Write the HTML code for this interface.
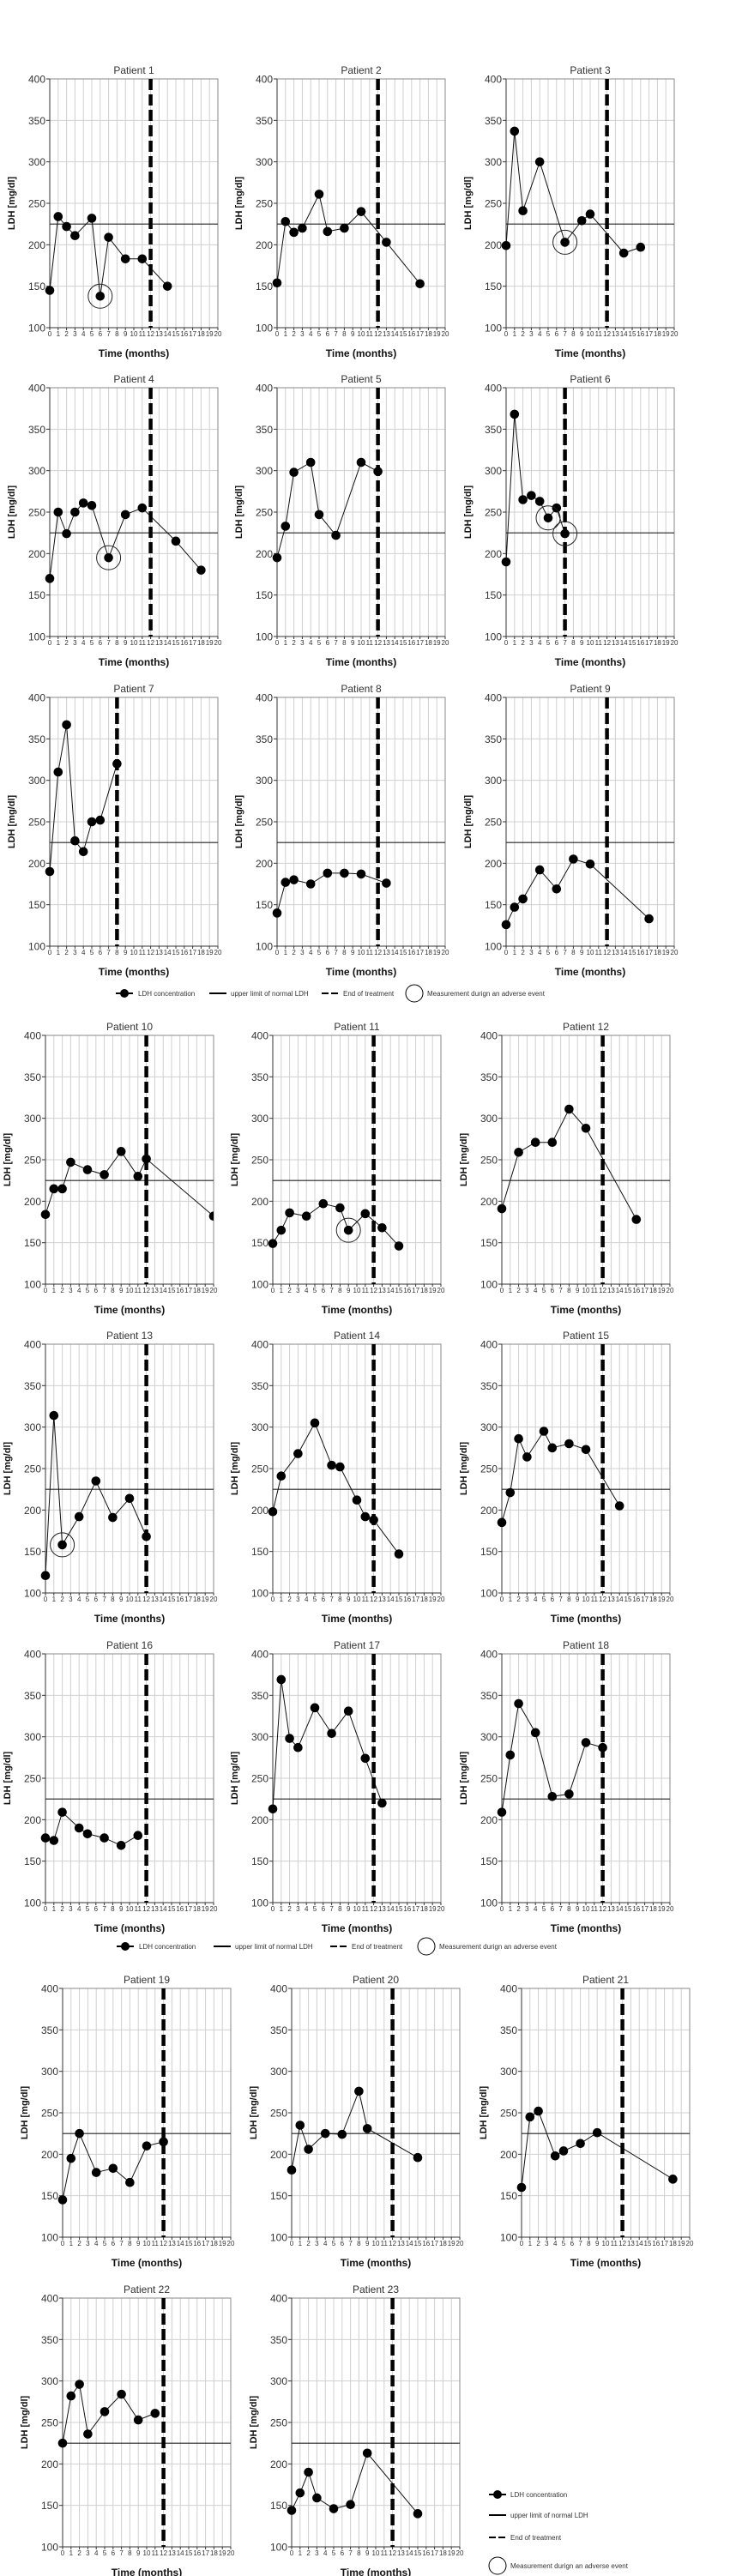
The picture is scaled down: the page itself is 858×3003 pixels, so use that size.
<!DOCTYPE html>
<html><head><meta charset="utf-8">
<style>
html,body{margin:0;padding:0;background:#fff;}
svg{display:block;}
text{font-family:"Liberation Sans",sans-serif;}
</style></head>
<body>
<svg id="fig" width="858" height="3003" viewBox="0 0 858 3003" xmlns="http://www.w3.org/2000/svg"></svg>
<script>
const patientNames = ["Patient 1","Patient 2","Patient 3","Patient 4","Patient 5","Patient 6","Patient 7","Patient 8","Patient 9","Patient 10","Patient 11","Patient 12","Patient 13","Patient 14","Patient 15","Patient 16","Patient 17","Patient 18","Patient 19","Patient 20","Patient 21","Patient 22","Patient 23"];
const patientMonths = [
[0,1,2,3,5,6,7,9,11,14],
[0,1,2,3,5,6,8,10,13,17],
[0,1,2,4,7,9,10,14,16],
[0,1,2,3,4,5,7,9,11,15,18],
[0,1,2,4,5,7,10,12],
[0,1,2,3,4,5,6,7],
[0,1,2,3,4,5,6,8],
[0,1,2,4,6,8,10,13],
[0,1,2,4,6,8,10,17],
[0,1,2,3,5,7,9,11,12,20],
[0,1,2,4,6,8,9,11,13,15],
[0,2,4,6,8,10,16],
[0,1,2,4,6,8,10,12],
[0,1,3,5,7,8,10,11,12,15],
[0,1,2,3,5,6,8,10,14],
[0,1,2,4,5,7,9,11],
[0,1,2,3,5,7,9,11,13],
[0,1,2,4,6,8,10,12],
[0,1,2,4,6,8,10,12],
[0,1,2,4,6,8,9,15],
[0,1,2,4,5,7,9,18],
[0,1,2,3,5,7,9,11],
[0,1,2,3,5,7,9,15]
];
const patientLDH = [
[145,234,222,211,232,138,209,183,183,150],
[154,228,215,220,261,216,220,240,203,153],
[199,337,241,300,203,229,237,190,197],
[170,250,224,250,261,258,195,247,255,215,180],
[195,233,298,310,247,222,310,299],
[190,368,265,270,263,243,255,224],
[190,310,367,227,214,250,252,320],
[140,177,180,175,188,188,187,176],
[126,147,157,192,169,205,199,133],
[184,215,215,247,238,232,260,230,251,182],
[149,165,186,182,197,192,165,185,168,146],
[191,259,271,271,311,288,178],
[121,314,158,192,235,191,214,168],
[198,241,268,305,254,252,212,192,188,147],
[185,221,286,264,295,275,280,273,205],
[178,175,209,190,183,178,169,181],
[213,369,298,287,335,304,331,274,220],
[209,278,340,305,228,231,293,287],
[145,195,225,178,183,166,210,215],
[181,235,206,225,224,276,231,196],
[160,245,252,198,204,213,226,170],
[225,282,296,236,263,284,253,261],
[144,165,190,159,146,151,213,140]
];
const endOfTreatment = [12,12,12,12,12,7,8,12,12,12,12,12,12,12,12,12,12,12,12,12,12,12,12];
const adverseMonths = [[6],[],[7],[7],[],[5,7],[],[],[],[],[9],[],[2],[],[],[],[],[],[],[],[],[],[]];
const upperLimit = 225;
const yTicks = [100,150,200,250,300,350,400];
const xTicks = [0,1,2,3,4,5,6,7,8,9,10,11,12,13,14,15,16,17,18,19,20];

const NS="http://www.w3.org/2000/svg";
const svg=document.getElementById('fig');
function mk(tag,attrs,parent){const e=document.createElementNS(NS,tag);for(const k in attrs)e.setAttribute(k,attrs[k]);(parent||svg).appendChild(e);return e;}

const rowTops=[92,452,813,1207,1567,1928,2318,2679];
const colLefts=[[58,323,590],[58,323,590],[58,323,590],[53,318,585],[53,318,585],[53,318,585],[73,340,608],[73,340,608]];
const PW=196, PH=290;

patientNames.forEach((name,i)=>{
  const r=Math.floor(i/3), c=i%3;
  const L=colLefts[r][c], T=rowTops[r];
  const xs=m=>L+m/20*PW;
  const ys=v=>T+PH-(v-100)/300*PH;
  const g=mk('g',{});
  
  
  const cp=mk('clipPath',{id:'cp'+i},g);
  mk('rect',{x:L-6,y:T,width:PW+6,height:PH},cp);
  // grid
  xTicks.forEach(m=>{if(m>0&&m<20){const l=mk('line',{x1:xs(m),x2:xs(m),y1:T,y2:T+PH,stroke:'#d0d0d0','stroke-width':1},g);}});
  yTicks.forEach(v=>{if(v>100&&v<400){const l=mk('line',{x1:L,x2:L+PW,y1:ys(v),y2:ys(v),stroke:'#d0d0d0','stroke-width':1},g);}});
  const frame=mk('rect',{x:L,y:T,width:PW,height:PH,fill:'none',stroke:'#8a8a8a','stroke-width':1},g);
  
  const ya=mk('line',{x1:L,x2:L,y1:T,y2:T+PH,stroke:'#333','stroke-width':1},g);
  
  const xa=mk('line',{x1:L,x2:L+PW,y1:T+PH,y2:T+PH,stroke:'#333','stroke-width':1},g);
  
  yTicks.forEach(v=>{
    mk('line',{x1:L-4,x2:L,y1:ys(v),y2:ys(v),stroke:'#333'},g);
    const t=mk('text',{x:L-5,y:ys(v)+4.5,'text-anchor':'end','font-size':12,fill:'#333'},g);
    t.textContent=v;
    
  });
  xTicks.forEach(m=>{
    mk('line',{x1:xs(m),x2:xs(m),y1:T+PH,y2:T+PH+3,stroke:'#333'},g);
    const t=mk('text',{x:xs(m),y:T+PH+10,'text-anchor':'middle','font-size':8,fill:'#333','font-family':'Liberation Serif, serif'},g);
    t.textContent=m;
    
  });
  const tt=mk('text',{x:L+PW/2,y:T-6,'text-anchor':'middle','font-size':12,fill:'#333'},g);
  tt.textContent=name;
  
  const xt=mk('text',{x:L+PW/2,y:T+PH+34,'text-anchor':'middle','font-size':12,'font-weight':'bold',fill:'#111'},g);
  xt.textContent='Time (months)';
  
  const yt=mk('text',{x:0,y:0,'text-anchor':'middle','font-size':11,'font-weight':'bold',fill:'#111',transform:`translate(${L-41},${T+PH/2}) rotate(-90)`},g);
  yt.textContent='LDH [mg/dl]';
  
  // ULN
  const u=mk('line',{x1:L,x2:L+PW,y1:ys(upperLimit),y2:ys(upperLimit),stroke:'#222','stroke-width':1.2},g);
  
  // series
  const cg=mk('g',{'clip-path':`url(#cp${i})`},g);
  const pts=patientMonths[i].map((m,k)=>xs(m)+','+ys(patientLDH[i][k])).join(' ');
  const pl=mk('polyline',{points:pts,fill:'none',stroke:'#111','stroke-width':1},cg);
  
  // end of treatment
  const e=mk('line',{x1:xs(endOfTreatment[i]),x2:xs(endOfTreatment[i]),y1:T,y2:T+PH,stroke:'#000','stroke-width':4.5,'stroke-dasharray':'13,5'},g);
  
  patientMonths[i].forEach((m,k)=>{
    const p=mk('circle',{cx:xs(m),cy:ys(patientLDH[i][k]),r:5.3,fill:'#000'},cg);
    
  });
  adverseMonths[i].forEach(m=>{
    const k=patientMonths[i].indexOf(m);
    const a=mk('circle',{cx:xs(m),cy:ys(patientLDH[i][k]),r:14,fill:'none',stroke:'#222','stroke-width':1},g);
    
  });
});

function legendH(y,x0,gaps){
  const g=mk('g',{});
  
  const [a,b,c,d]=gaps;
  mk('line',{x1:a-10,x2:a+10,y1:y,y2:y,stroke:'#000','stroke-width':2},g);
  mk('circle',{cx:a,cy:y,r:5,fill:'#000'},g);
  const t1=mk('text',{x:a+16,y:y+3,'font-size':8,fill:'#333'},g);t1.textContent='LDH concentration';
  
  mk('line',{x1:b-10,x2:b+10,y1:y,y2:y,stroke:'#000','stroke-width':2},g);
  const t2=mk('text',{x:b+15,y:y+3,'font-size':8,fill:'#333'},g);t2.textContent='upper limit of normal LDH';
  
  mk('line',{x1:c-10,x2:c+10,y1:y,y2:y,stroke:'#000','stroke-width':2,'stroke-dasharray':'8,3'},g);
  const t3=mk('text',{x:c+15,y:y+3,'font-size':8,fill:'#333'},g);t3.textContent='End of treatment';
  
  mk('circle',{cx:d,cy:y,r:10,fill:'none',stroke:'#000','stroke-width':1},g);
  const t4=mk('text',{x:d+15,y:y+3,'font-size':8,fill:'#333'},g);t4.textContent='Measurement durign an adverse event';
  
}
legendH(1158,0,[145,254,385,483]);
legendH(2269,0,[146,259,395,497]);

(function(){
  const g=mk('g',{});
  
  const x=580;
  const rows=[2908,2932,2958,2991];
  const labels=['LDH concentration','upper limit of normal LDH','End of treatment','Measurement durign an adverse event'];
  mk('line',{x1:x-10,x2:x+10,y1:rows[0],y2:rows[0],stroke:'#000','stroke-width':2},g);
  mk('circle',{cx:x,cy:rows[0],r:5,fill:'#000'},g);
  mk('line',{x1:x-10,x2:x+10,y1:rows[1],y2:rows[1],stroke:'#000','stroke-width':2},g);
  mk('line',{x1:x-10,x2:x+10,y1:rows[2],y2:rows[2],stroke:'#000','stroke-width':2,'stroke-dasharray':'8,3'},g);
  mk('circle',{cx:x,cy:rows[3],r:10,fill:'none',stroke:'#000','stroke-width':1},g);
  labels.forEach((l,k)=>{
    const t=mk('text',{x:x+15,y:rows[k]+3,'font-size':8,fill:'#333'},g);
    t.textContent=l;
    
    
  });
})();
</script>
</body></html>
